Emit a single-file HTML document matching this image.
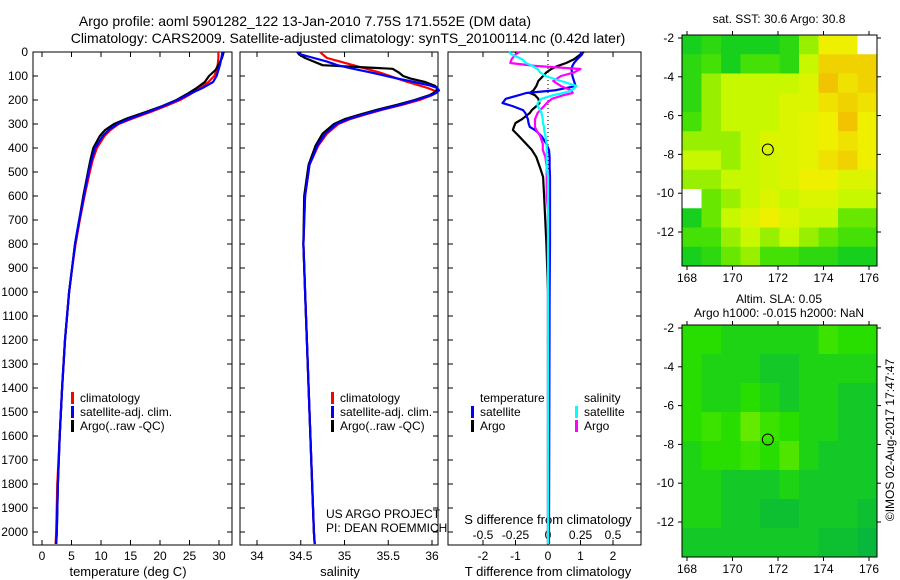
<!DOCTYPE html>
<html><head><meta charset="utf-8"><style>
body{margin:0;background:#fff}
svg{display:block;font-family:"Liberation Sans",sans-serif}
</style></head><body>
<svg id="c" width="900" height="580" xmlns="http://www.w3.org/2000/svg">
<text x="305" y="26" font-size="14" text-anchor="middle">Argo profile: aoml 5901282_122 13-Jan-2010 7.75S 171.552E (DM data)</text>
<text x="348" y="43" font-size="14" text-anchor="middle">Climatology: CARS2009. Satellite-adjusted climatology: synTS_20100114.nc (0.42d later)</text>
<text x="779" y="23" font-size="12" text-anchor="middle">sat. SST: 30.6 Argo: 30.8</text>
<text x="779" y="303" font-size="12" text-anchor="middle">Altim. SLA: 0.05</text>
<text x="779" y="317" font-size="12" text-anchor="middle">Argo h1000: -0.015 h2000: NaN</text>
<text transform="translate(894,440) rotate(-90)" font-size="12" text-anchor="middle">©IMOS 02-Aug-2017 17:47:47</text>
<text x="128" y="576" font-size="13" text-anchor="middle">temperature (deg C)</text>
<text x="340" y="576" font-size="13" text-anchor="middle">salinity</text>
<text x="548" y="576" font-size="13" text-anchor="middle">T difference from climatology</text>
<text x="548" y="524" font-size="13" text-anchor="middle">S difference from climatology</text>
<text x="326" y="518" font-size="12">US ARGO PROJECT</text>
<text x="326" y="532" font-size="12">PI: DEAN ROEMMICH</text>
<g id="g"></g>
</svg>
<script>
// ---- data ----
const depthT = [0,25,50,75,100,125,150,175,200,225,250,275,300,325,350,400,450,500,600,700,800,900,1000,1200,1400,1600,1800,2000,2050];
const tempClim = [29.9,29.9,29.8,29.6,29.2,28.2,26.8,25.2,23.4,21.0,18.4,15.6,13.0,11.6,10.6,9.3,8.6,8.1,7.2,6.4,5.7,5.1,4.6,3.9,3.4,3.0,2.6,2.4,2.3];
const tempSat  = [30.6,30.4,30.2,29.9,29.6,29.0,27.2,25.0,23.0,20.6,18.0,15.2,12.8,11.3,10.3,9.0,8.4,7.9,7.1,6.3,5.6,5.1,4.6,3.9,3.4,3.0,2.7,2.5,2.4];
const tempArgo = [30.8,30.5,30.0,29.4,28.3,27.6,26.2,24.6,22.8,20.4,17.6,14.6,12.2,10.7,9.8,8.7,8.2,7.8,7.0,6.3,5.6,5.1,4.6,3.9,3.4,3.0,2.7,2.5,2.4];
const depthS = [0,10,25,40,55,70,85,100,110,125,140,150,160,170,180,200,220,240,260,280,300,340,390,470,600,800,1000,1500,2000,2050];
const salClim = [34.72,34.75,34.8,34.95,35.1,35.25,35.4,35.52,35.6,35.72,35.86,35.95,36.02,36.05,36.0,35.86,35.66,35.44,35.24,35.06,34.93,34.8,34.7,34.6,34.55,34.53,34.55,34.6,34.65,34.66];
const salSat  = [34.46,34.5,34.65,34.8,34.92,35.1,35.3,35.48,35.6,35.8,35.98,36.06,36.08,36.05,35.99,35.82,35.64,35.42,35.22,35.04,34.91,34.78,34.69,34.6,34.55,34.53,34.55,34.6,34.65,34.66];
const salArgo = [34.46,34.48,34.55,34.65,34.75,35.55,35.62,35.67,35.75,35.92,36.03,36.06,36.05,36.02,35.97,35.8,35.6,35.38,35.18,35.0,34.88,34.75,34.67,34.59,34.54,34.53,34.55,34.6,34.65,34.66];
const depthD = [0,10,30,46,58,71,85,100,121,142,160,171,180,195,213,225,242,254,280,296,312,325,350,383,408,438,480,521,600,660,800,1000,1500,2000,2050];
const dTsat  = [1.0,1.05,0.9,0.8,0.75,0.72,0.74,0.75,0.8,0.85,0.2,-0.67,-0.9,-1.3,-1.4,-1.1,-0.77,-0.7,-0.62,-0.6,-0.56,-0.4,-0.2,-0.05,0.03,0.05,0.05,0.06,0.06,0.06,0.06,0.05,0.04,0.03,0.03];
const dTargo = [1.1,1.0,0.8,0.56,0.3,0.1,-0.05,-0.15,-0.3,-0.36,-0.45,-0.56,-0.4,-0.3,-0.26,-0.35,-0.5,-0.56,-0.8,-1.0,-1.05,-1.08,-0.9,-0.67,-0.5,-0.36,-0.25,-0.15,-0.12,-0.1,-0.05,0.0,0.0,0.0,0.0];
const dSargo = [-0.22,-0.25,-0.28,-0.29,-0.1,0.25,0.2,0.1,0.04,0.1,0.18,0.19,0.12,0.03,-0.01,-0.03,-0.06,-0.08,-0.1,-0.1,-0.1,-0.09,-0.06,-0.04,-0.04,-0.02,-0.01,-0.01,-0.01,0.0,0.0,0.0,0.0,0.0,0.0];
const dSsat  = [-0.3,-0.28,-0.2,-0.17,-0.12,-0.08,-0.06,-0.02,0.1,0.22,0.18,0.12,0.04,-0.05,-0.08,-0.08,-0.06,-0.05,-0.04,-0.04,-0.03,-0.03,-0.02,-0.01,-0.01,-0.01,-0.01,0.0,0.0,0.0,0.0,0.0,0.0,0.0,0.0];
const depthTicks = [0,100,200,300,400,500,600,700,800,900,1000,1100,1200,1300,1400,1500,1600,1700,1800,1900,2000];
const tempTicks = [0,5,10,15,20,25,30];
const salTicks = [34,34.5,35,35.5,36];
const salTickLabels = ["34","34.5","35","35.5","36"];
const tdTicks = [-2,-1,0,1,2];
const sdTicks = [-0.5,-0.25,0,0.25,0.5];
const sdTickLabels = ["-0.5","-0.25","0","0.25","0.5"];
const lonTicks = [168,170,172,174,176];
const latTicks = [-2,-4,-6,-8,-10,-12];
const sstGrid = [
[0.1,0.2,0.1,0.1,0.1,0.2,0.5,0.8,0.8,-1],
[0.2,0.3,0.1,0.3,0.3,0.2,0.6,0.9,0.9,0.9],
[0.2,0.5,0.6,0.6,0.6,0.6,0.7,0.95,0.85,0.9],
[0.2,0.5,0.6,0.6,0.6,0.7,0.7,0.85,0.9,0.85],
[0.3,0.5,0.6,0.6,0.6,0.7,0.75,0.8,0.95,0.8],
[0.5,0.5,0.5,0.6,0.7,0.7,0.75,0.8,0.85,0.8],
[0.6,0.6,0.5,0.6,0.65,0.7,0.75,0.85,0.9,0.8],
[0.5,0.5,0.6,0.6,0.65,0.7,0.8,0.8,0.7,0.7],
[-1,0.4,0.5,0.6,0.7,0.6,0.7,0.7,0.6,0.6],
[0.1,0.4,0.6,0.7,0.8,0.7,0.6,0.6,0.4,0.4],
[0.3,0.3,0.5,0.6,0.5,0.6,0.5,0.4,0.3,0.3],
[0.1,0.2,0.4,0.5,0.3,0.3,0.2,0.2,0.1,0.1]];
const slaGrid = [
[0.5,0.5,0.4,0.4,0.4,0.4,0.4,0.6,0.5,0.5],
[0.5,0.4,0.4,0.4,0.3,0.3,0.4,0.4,0.4,0.4],
[0.5,0.4,0.4,0.5,0.4,0.3,0.4,0.4,0.3,0.3],
[0.5,0.6,0.5,0.8,0.6,0.5,0.4,0.4,0.3,0.3],
[0.4,0.5,0.5,0.6,0.5,0.7,0.4,0.3,0.3,0.3],
[0.4,0.4,0.3,0.3,0.3,0.4,0.3,0.3,0.3,0.3],
[0.4,0.4,0.3,0.3,0.2,0.2,0.3,0.3,0.3,0.2],
[0.3,0.3,0.3,0.3,0.3,0.3,0.3,0.2,0.2,0.1]];
const floatLon = 171.552, floatLat = -7.75;

// ---- drawing ----
const NS="http://www.w3.org/2000/svg", G=document.getElementById('g');
function el(t,a,p){const e=document.createElementNS(NS,t);for(const k in a)e.setAttribute(k,a[k]);(p||G).appendChild(e);return e;}
const top0=52, bot=545;
const yD = d => top0 + d*0.24;
const xT = v => 42 + v*5.9;
const xS = v => 257 + (v-34)*87.5;
const xTD = v => 548 + v*32.5;
const xSD = v => 548 + v*130;
const panels=[{x0:33,x1:232,n:'temperature-panel'},{x0:240,x1:438,n:'salinity-panel'},{x0:448,x1:641,n:'difference-panel'}];
panels.forEach(p=>{
  const r=el('rect',{x:p.x0,y:top0,width:p.x1-p.x0,height:bot-top0,fill:'none',stroke:'#000','stroke-width':1});
  
  
  depthTicks.forEach(d=>{
    el('line',{x1:p.x0,x2:p.x0+5,y1:yD(d),y2:yD(d),stroke:'#000'});
    el('line',{x1:p.x1,x2:p.x1-5,y1:yD(d),y2:yD(d),stroke:'#000'});
  });
});
depthTicks.forEach(d=>{
  const t=el('text',{x:28,y:yD(d)+4,'font-size':12,'text-anchor':'end'});t.textContent=d;
  
  
});
function xticks(ticks,labels,fx,ylab){
  ticks.forEach((v,i)=>{
    const x=fx(v);
    el('line',{x1:x,x2:x,y1:top0,y2:top0+5,stroke:'#000'});
    el('line',{x1:x,x2:x,y1:bot,y2:bot-5,stroke:'#000'});
    const t=el('text',{x:x,y:ylab,'font-size':12,'text-anchor':'middle'});t.textContent=labels[i];
    
    
  });
}
xticks(tempTicks,tempTicks.map(String),xT,560);
xticks(salTicks,salTickLabels,xS,560);
xticks(tdTicks,tdTicks.map(String),xTD,560);
sdTicks.forEach((v,i)=>{
  const t=el('text',{x:xSD(v),y:539,'font-size':12,'text-anchor':'middle'});t.textContent=sdTickLabels[i];
  
  
});
el('line',{x1:548,x2:548,y1:top0,y2:bot,stroke:'#000','stroke-dasharray':'1,3'});
function line(depths,vals,fx,col,name,w){
  const pts=depths.map((d,i)=>fx(vals[i]).toFixed(1)+','+yD(d).toFixed(1)).join(' ');
  const e=el('polyline',{points:pts,fill:'none',stroke:col,'stroke-width':w||2.2,'stroke-linejoin':'round'});
  
  
}
line(depthT,tempClim,xT,'#ff0000','temp-climatology-line');
line(depthT,tempArgo,xT,'#000000','temp-argo-line');
line(depthT,tempSat,xT,'#0000ff','temp-satellite-line');
line(depthS,salClim,xS,'#ff0000','sal-climatology-line');
line(depthS,salArgo,xS,'#000000','sal-argo-line');
line(depthS,salSat,xS,'#0000ff','sal-satellite-line');
line(depthD,dTargo,xTD,'#000000','tdiff-argo-line');
line(depthD,dTsat,xTD,'#0000ff','tdiff-satellite-line');
line(depthD,dSargo,xSD,'#ff00ff','sdiff-argo-line');
line(depthD,dSsat,xSD,'#00ffff','sdiff-satellite-line');
function leg(x,y,col,txt,name){
  if(col) el('rect',{x:x-9,y:y-10,width:3,height:12,fill:col});
  const t=el('text',{x:x,y:y,'font-size':12});t.textContent=txt;
  
  
}
[[80,'temp'],[340,'sal']].forEach(([x,n])=>{
  leg(x,402,'#ff0000','climatology',n+'-legend-climatology');
  leg(x,416,'#0000ff','satellite-adj. clim.',n+'-legend-satellite');
  leg(x,430,'#000000','Argo(..raw -QC)',n+'-legend-argo');
});
leg(480,402,null,'temperature','diff-legend-temperature-header');
leg(584,402,null,'salinity','diff-legend-salinity-header');
leg(480,416,'#0000ff','satellite','diff-legend-t-satellite');
leg(480,430,'#000000','Argo','diff-legend-t-argo');
leg(584,416,'#00ffff','satellite','diff-legend-s-satellite');
leg(584,430,'#ff00ff','Argo','diff-legend-s-argo');
function interp(stops,v){
  for(let i=1;i<stops.length;i++){if(v<=stops[i][0]){const a=stops[i-1],b=stops[i],f=(v-a[0])/(b[0]-a[0]);
    return 'rgb('+[1,2,3].map(k=>Math.round(a[k]+(b[k]-a[k])*f)).join(',')+')';}}
  const l=stops[stops.length-1];return 'rgb('+l[1]+','+l[2]+','+l[3]+')';
}
const sstStops=[[0,0,200,40],[0.35,80,228,0],[0.6,200,248,0],[0.8,238,240,0],[1,242,180,0]];
const slaStops=[[0,0,176,70],[0.3,20,200,40],[0.5,40,222,0],[1,140,240,0]];
function map(grid,stops,y0,y1,name){
  const x0=682,x1=877;
  const yTick=(y0===35?38:328);
  const xL=v=>687+(v-168)*22.75, yL=v=>yTick+(-2-v)*19.4;
  const R=grid.length,C=grid[0].length,cw=(x1-x0)/C,ch=(y1-y0)/R;
  grid.forEach((row,r)=>row.forEach((v,c)=>{
    const e=el('rect',{x:x0+c*cw,y:y0+r*ch,width:cw+0.5,height:ch+0.5,fill:v<0?'#ffffff':interp(stops,v)});
    
    
  }));
  const f=el('rect',{x:x0,y:y0,width:x1-x0,height:y1-y0,fill:'none',stroke:'#000'});
  
  
  lonTicks.forEach(v=>{const x=xL(v);
    el('line',{x1:x,x2:x,y1:y0,y2:y0-4,stroke:'#000'});el('line',{x1:x,x2:x,y1:y1,y2:y1+4,stroke:'#000'});
    const t=el('text',{x:x,y:y1+16,'font-size':12,'text-anchor':'middle'});t.textContent=v;
    
    });
  latTicks.forEach(v=>{const y=yL(v);
    el('line',{x1:x0,x2:x0-4,y1:y,y2:y,stroke:'#000'});el('line',{x1:x1,x2:x1+4,y1:y,y2:y,stroke:'#000'});
    const t=el('text',{x:x0-8,y:y+4,'font-size':12,'text-anchor':'end'});t.textContent=v;
    
    });
  const c=el('circle',{cx:xL(floatLon),cy:yL(floatLat),r:5.5,fill:'none',stroke:'#000','stroke-width':1});
  
  
}
map(sstGrid,sstStops,35,266,'sst-map');
map(slaGrid,slaStops,325,557,'sla-map');
</script>
</body></html>
